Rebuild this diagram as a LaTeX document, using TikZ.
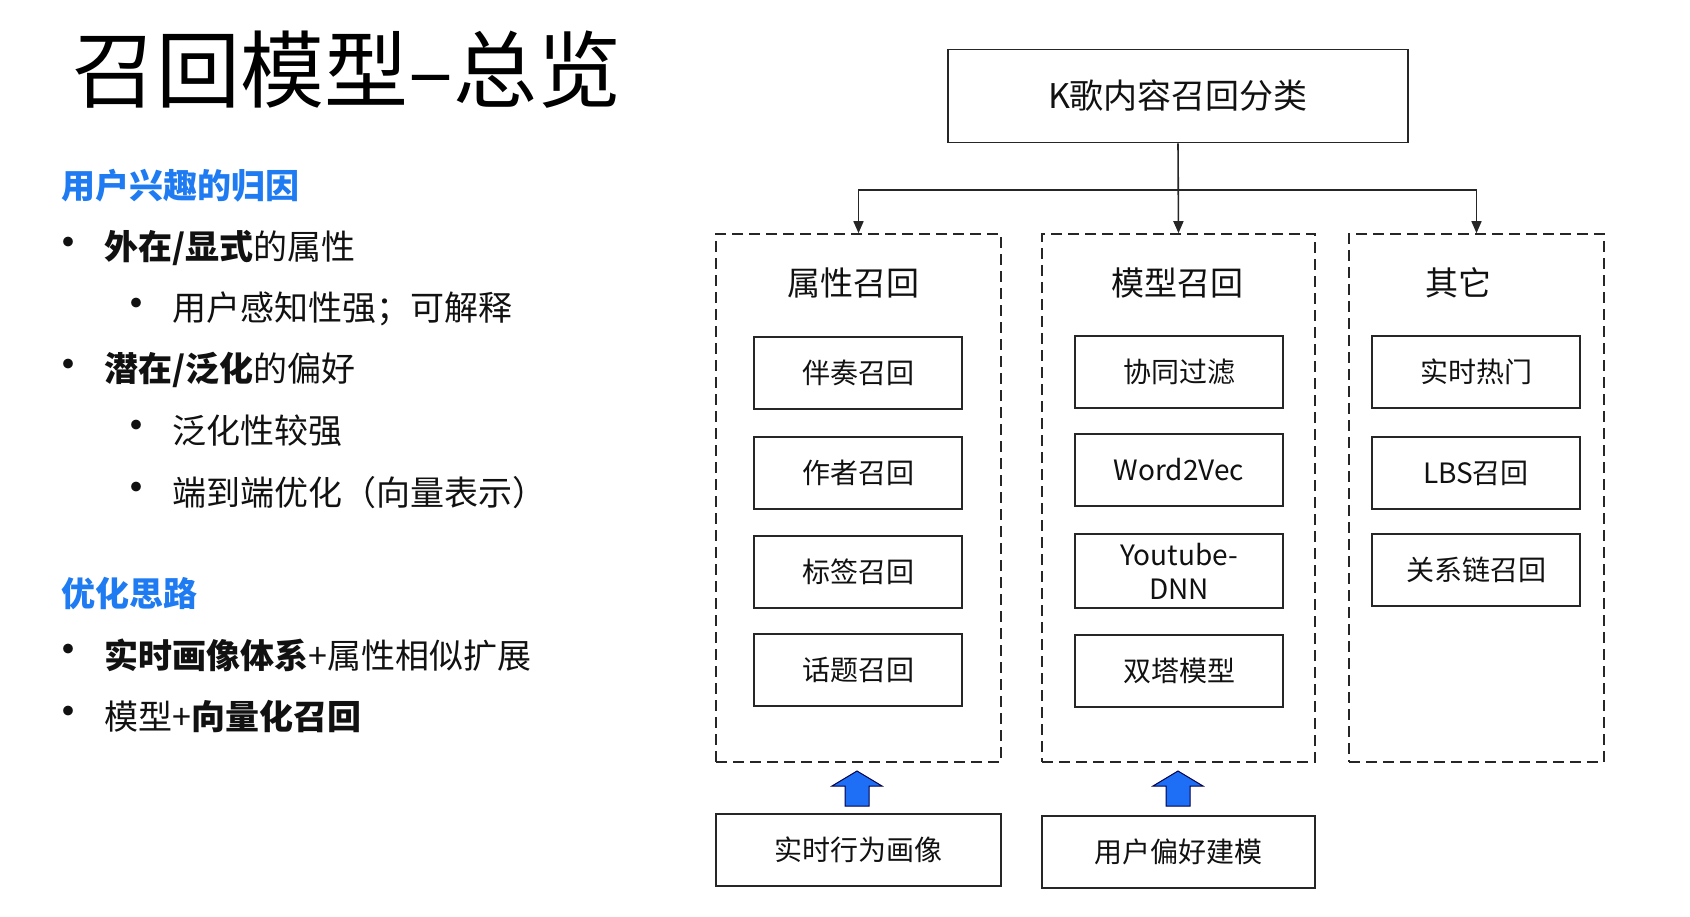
\documentclass[tikz,border=0pt]{standalone}
\usepackage{fontspec}
\setmainfont{Noto Sans CJK SC}
\usetikzlibrary{arrows.meta}
\definecolor{hblue}{HTML}{1F7BF2}
\definecolor{ablue}{HTML}{1E6FF5}
\definecolor{txt}{HTML}{111111}
\tikzset{
  box/.style={draw=black!85, line width=1.6pt, inner sep=0pt, align=center, text=txt,
    font=\fontsize{28}{32}\selectfont},
  grp/.style={draw=black!85, line width=1.6pt, dash pattern=on 11pt off 6pt, inner sep=0pt},
  hdr/.style={font=\fontsize{33}{38}\selectfont, text=txt, inner sep=0pt},
  arr/.style={line width=1.6pt, draw=black!85, -{Triangle[width=10pt,length=12pt]}},
  lt/.style={anchor=west, inner sep=0pt, text=txt, font=\fontsize{34}{38}\selectfont},
  bh/.style={anchor=west, inner sep=0pt, text=hblue, font=\fontsize{34}{38}\selectfont\bfseries},
  bul/.style={inner sep=0pt, text=txt, font=\fontsize{46}{50}\selectfont},
  barrow/.style={fill=ablue, draw=black!70!blue, line width=1pt, line join=miter}
}
\begin{document}
\begin{tikzpicture}[x=1pt,y=-1pt]
\useasboundingbox (0,0) rectangle (1690,917);
% title
\node[anchor=west, inner sep=0pt, text=black, font=\fontsize{84}{94}\selectfont] (title) at (72,70) {召回模型–总览};
% left text
\node[bh] (h1) at (61,186) {用户兴趣的归因};
\node[bul] (b1) at (68,248) {•};
\node[lt] (t1) at (104,248) {\textbf{外在/显式}的属性};
\node[bul] (b2) at (136,309) {•};
\node[lt] (t2) at (172,309) {用户感知性强；可解释};
\node[bul] (b3) at (68,370) {•};
\node[lt] (t3) at (104,370) {\textbf{潜在/泛化}的偏好};
\node[bul] (b4) at (136,431) {•};
\node[lt] (t4) at (172,431) {泛化性较强};
\node[bul] (b5) at (136,493) {•};
\node[lt] (t5) at (172,493) {端到端优化（向量表示）};
\node[bh] (h2) at (61,594) {优化思路};
\node[bul] (b6) at (68,655) {•};
\node[lt] (t6) at (104,655) {\textbf{实时画像体系}+属性相似扩展};
\node[bul] (b7) at (68,717) {•};
\node[lt] (t7) at (104,717) {模型+\textbf{向量化召回}};
% diagram
\node[box, minimum width=460pt, minimum height=93pt, font=\fontsize{34}{38}\selectfont] (top) at (1178,96) {K歌内容召回分类};
\node[grp, minimum width=285pt, minimum height=528pt] (g1) at (858.5,498) {};
\node[grp, minimum width=273pt, minimum height=528pt] (g2) at (1178.5,498) {};
\node[grp, minimum width=255pt, minimum height=528pt] (g3) at (1476.5,498) {};
\node[hdr] (hd1) at (853,283) {属性召回};
\node[hdr] (hd2) at (1177,283) {模型召回};
\node[hdr] (hd3) at (1458,283) {其它};
\coordinate (j) at (1178,190);
\draw[arr] (top.south) -- (g2.north);
\draw[arr] (j) -| (g1.north);
\draw[arr] (j) -| (g3.north);
% left group
\node[box, minimum width=208pt, minimum height=72pt] (a1) at (858,373) {伴奏召回};
\node[box, minimum width=208pt, minimum height=72pt] (a2) at (858,473) {作者召回};
\node[box, minimum width=208pt, minimum height=72pt] (a3) at (858,572) {标签召回};
\node[box, minimum width=208pt, minimum height=72pt] (a4) at (858,670) {话题召回};
% middle group
\node[box, minimum width=208pt, minimum height=72pt] (m1) at (1179,372) {协同过滤};
\node[box, minimum width=208pt, minimum height=72pt] (m2) at (1179,470) {Word2Vec};
\node[box, minimum width=208pt, minimum height=74pt, font=\fontsize{28}{34}\selectfont] (m3) at (1179,571) {Youtube-\\DNN};
\node[box, minimum width=208pt, minimum height=72pt] (m4) at (1179,671) {双塔模型};
% right group
\node[box, minimum width=208pt, minimum height=72pt] (r1) at (1476,372) {实时热门};
\node[box, minimum width=208pt, minimum height=72pt] (r2) at (1476,473) {LBS召回};
\node[box, minimum width=208pt, minimum height=72pt] (r3) at (1476,570) {关系链召回};
% bottom boxes
\node[box, minimum width=285pt, minimum height=72pt] (p1) at (858.5,850) {实时行为画像};
\node[box, minimum width=273pt, minimum height=72pt] (p2) at (1178.5,852) {用户偏好建模};
% blue block arrows
\coordinate (ba1) at (857,806);
\coordinate (ba2) at (1178,806);
\foreach \c in {ba1,ba2}{
  \draw[barrow] (\c) ++(-12,0) -- ++(0,-20) -- ++(-13,0) -- ++(25,-15) -- ++(25,15) -- ++(-13,0) -- ++(0,20) -- cycle;
}
\end{tikzpicture}
\end{document}
